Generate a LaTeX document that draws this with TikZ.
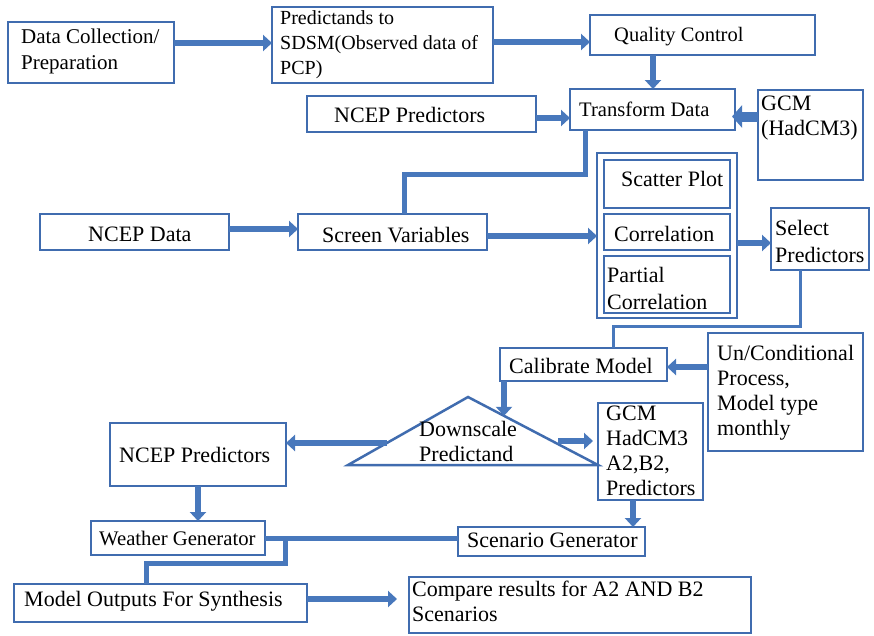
\documentclass[tikz,border=0pt]{standalone}
\usepackage{fontspec}
\setmainfont{Liberation Serif}
\usetikzlibrary{arrows.meta,calc}
\definecolor{bc}{RGB}{64,108,175}
\definecolor{ac}{RGB}{72,120,188}
\newcommand\bbox[5]{\node[bx,minimum width={#4-#2},minimum height={#5-#3}] (#1) at ({(#2+#4)/2},{(#3+#5)/2}) {};}
\begin{document}
\begin{tikzpicture}[x=1pt,y=-1pt,
  bx/.style={draw=bc,line width=2.5pt,inner sep=0pt,outer sep=0pt},
  txt/.style={anchor=west,align=left,inner sep=0pt,font=\fontsize{22}{25}\selectfont},
  arr/.style={draw=ac,line width=6pt,-{Triangle[width=16pt,length=9pt]}},
  fat/.style={draw=ac,line width=10pt,-{Triangle[width=22pt,length=10pt]}},
  ln/.style={draw=ac,line width=5pt},
  thinln/.style={draw=ac,line width=3pt}]
\fill[white] (0,0) rectangle (874,635);
\useasboundingbox (0,0) rectangle (874,635);
% boxes
\bbox{dc}{8}{22}{174}{83}
\bbox{pred}{272}{7}{493}{83}
\bbox{qc}{590}{15}{815}{55}
\bbox{np1}{307}{96}{536}{132}
\bbox{td}{570}{89}{735}{130}
\bbox{gcm}{758}{90}{863}{180}
\bbox{nd}{40}{214}{229}{250}
\bbox{sv}{298}{214}{487}{250}
\bbox{outer}{597}{153}{737}{318}
\bbox{sp}{604}{160}{730}{208}
\bbox{cor}{604}{214}{730}{250}
\bbox{pc}{604}{256}{730}{313}
\bbox{sel}{771}{208}{869}{270}
\bbox{cal}{500}{348}{667}{381}
\bbox{un}{708}{333}{863}{451}
\bbox{gcm2}{598}{403}{703}{500}
\bbox{np2}{110}{423}{286}{486}
\bbox{wg}{91}{521}{265}{555}
\bbox{sg}{458}{527}{645}{556}
\bbox{mo}{14}{584}{307}{622}
\bbox{cmp}{409}{577}{751}{633}
% triangle
\coordinate (tA) at (468,397);
\coordinate (tL) at (348,465);
\coordinate (tR) at (598,465);
\draw[bx] (tA) -- (tL) -- (tR) -- cycle;
% texts
\node[txt,font=\fontsize{21}{26}\selectfont] (t1) at (21,51) {Data Collection/\\Preparation};
\node[txt,font=\fontsize{20}{25}\selectfont] (t2) at (280,45) {Predictands to\\SDSM(Observed data of\\PCP)};
\node[txt,font=\fontsize{20.5}{25}\selectfont] (t3) at (614,37) {Quality Control};
\node[txt] (t4) at (334,115) {NCEP Predictors};
\node[txt,font=\fontsize{20.6}{25}\selectfont] (t5) at (579,109) {Transform Data};
\node[txt] (t6) at (761,118) {GCM\\(HadCM3)};
\node[txt] (t7) at (88,234) {NCEP Data};
\node[txt] (t8) at (322,235) {Screen Variables};
\node[txt] (t9) at (621,179) {Scatter Plot};
\node[txt] (t10) at (614,234) {Correlation};
\node[txt,font=\fontsize{22}{27}\selectfont] (t11) at (607,288) {Partial\\Correlation};
\node[txt,font=\fontsize{22}{27}\selectfont] (t12) at (775,241) {Select\\Predictors};
\node[txt] (t13) at (509,366) {Calibrate Model};
\node[txt] (t14) at (717,393) {Un/Conditional\\Process,\\Model type\\monthly};
\node[txt] (t15) at (419,441) {Downscale\\Predictand};
\node[txt] (t16) at (606,451) {GCM\\HadCM3\\A2,B2,\\Predictors};
\node[txt] (t17) at (119,455) {NCEP Predictors};
\node[txt,font=\fontsize{20.7}{25}\selectfont] (t18) at (99,538) {Weather Generator};
\node[txt] (t19) at (467,540) {Scenario Generator};
\node[txt] (t20) at (24,601) {Model Outputs For Synthesis};
\node[txt] (t21) at (412,601) {Compare results for A2 AND B2\\Scenarios};
% connectors
\coordinate (a1) at ([yshift=9.5pt]dc.east); \draw[arr] (a1) -- (a1 -| pred.west);
\coordinate (a2) at ([yshift=3pt]pred.east); \draw[arr] (a2) -- (a2 -| qc.west);
\coordinate (a3) at ([xshift=-49.5pt]qc.south); \draw[arr] (a3) -- (a3 |- td.north);
\coordinate (a4) at ([yshift=-4pt]np1.east); \draw[arr] (a4) -- (a4 -| td.west);
\coordinate (a5) at ([yshift=18.5pt]gcm.west); \draw[fat,shorten >=-3pt] (a5) -- (a5 -| td.east);
\coordinate (a6) at ([xshift=-67.5pt]td.south); \draw[ln] (a6) -- ++(0,44) -| ([xshift=11.5pt]sv.north);
\coordinate (a7) at ([yshift=3pt]nd.east); \draw[arr] (a7) -- (a7 -| sv.west);
\coordinate (a8) at ([yshift=-4pt]sv.east); \draw[arr] (a8) -- (a8 -| outer.west);
\coordinate (a9) at ([yshift=-7.5pt]outer.east); \draw[arr] (a9) -- (a9 -| sel.west);
\coordinate (a10) at ([xshift=-20pt]sel.south); \draw[thinln] (a10) -- ++(0,56) -| ([xshift=29.5pt]cal.north);
\coordinate (a11) at ([yshift=25pt]un.west); \draw[arr] (a11) -- (a11 -| cal.east);
\coordinate (a12) at ([xshift=-79.5pt]cal.south);
\coordinate (dR1) at ($(tA)!0.277!(tR)$);
\draw[arr] (a12) -- (a12 |- dR1);
\coordinate (dL) at ($(tA)!0.676!(tL)$); \draw[arr] (dL) -- (dL -| np2.east);
\coordinate (dR2) at ($(tA)!0.647!(tR)$); \draw[arr,shorten <=6pt,shorten >=5pt] (dR2) -- (dR2 -| gcm2.west);
\draw[arr] (np2.south) -- (np2.south |- wg.north);
\coordinate (a13) at ([xshift=-17.5pt]gcm2.south); \draw[arr] (a13) -- (a13 |- sg.north);
\draw[ln] (wg.east) -- (wg.east -| sg.west);
\coordinate (a14) at ([xshift=20pt]wg.east); \draw[ln] (a14) -- ++(0,25) -| ([xshift=-14.5pt]mo.north);
\coordinate (a15) at ([yshift=4pt]mo.east); \draw[arr,shorten >=12pt] (a15) -- (a15 -| cmp.west);
\end{tikzpicture}
\end{document}
